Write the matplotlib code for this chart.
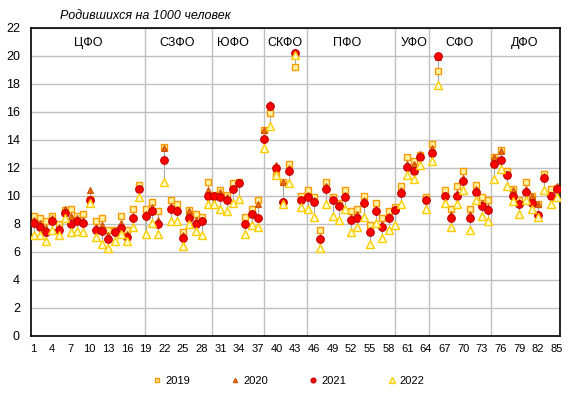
import matplotlib
matplotlib.use('Agg')
import matplotlib.pyplot as plt
import numpy as np

plt.rcParams['font.family'] = ['Liberation Sans', 'DejaVu Sans']

# birth rate per 1000 people, regions 1..85
y2019 = [8.6, 8.4, 8.2, 8.6, 8.0, 9.0, 9.1, 8.6, 8.7, 9.8,
         8.2, 8.4, 7.6, 7.6, 8.6, 7.6, 9.1, 10.8, 9.1, 9.6,
         8.9, 13.5, 9.7, 9.4, 7.4, 9.0, 8.7, 8.5, 11.0, 10.1,
         10.4, 10.1, 10.9, 11.0, 8.5, 9.1, 9.7, 14.7, 15.9, 11.6,
         11.0, 12.3, 19.2, 10.0, 10.4, 9.9, 7.6, 11.0, 9.9, 9.5,
         10.4, 8.9, 9.1, 10.0, 7.95, 9.5, 8.4, 8.9, 9.2, 10.7,
         12.8, 12.5, 12.9, 9.9, 13.7, 18.9, 10.4, 9.1, 10.7, 11.8,
         9.1, 10.8, 9.9, 9.7, 12.8, 13.3, 11.8, 10.5, 9.7, 11.0,
         10.0, 9.4, 11.6, 10.5, 10.6]
y2020 = [8.3, 8.1, 7.7, 8.4, 7.8, 9.1, 8.6, 8.4, 8.3, 10.4,
         7.8, 7.9, 7.2, 7.5, 8.1, 7.3, 8.6, 10.6, 8.7, 9.2,
         8.3, 13.4, 9.3, 9.1, 7.2, 8.95, 8.3, 8.3, 10.4, 10.0,
         10.3, 9.9, 10.6, 11.0, 8.1, 8.8, 9.4, 14.7, 16.6, 12.2,
         11.0, 12.0, 20.3, 9.8, 10.1, 9.7, 7.1, 10.7, 9.8, 9.4,
         10.1, 8.5, 8.7, 9.7, 7.6, 9.1, 8.0, 8.6, 9.1, 10.4,
         12.3, 12.3, 13.0, 9.8, 13.4, 19.9, 10.1, 8.7, 10.2, 11.3,
         8.7, 10.5, 9.5, 9.2, 12.8, 13.2, 11.6, 10.4, 9.6, 10.5,
         10.0, 9.4, 11.4, 10.1, 10.7]
y2021 = [8.1, 7.8, 7.4, 8.2, 7.6, 8.8, 8.0, 8.2, 8.1, 9.7,
         7.6, 7.5, 6.95, 7.4, 7.7, 7.1, 8.4, 10.5, 8.6, 8.95,
         8.0, 12.6, 9.1, 8.9, 7.0, 8.4, 8.0, 8.2, 10.0, 10.0,
         9.9, 9.7, 10.5, 10.9, 8.0, 8.7, 8.4, 14.1, 16.4, 12.0,
         9.6, 11.8, 20.2, 9.7, 9.95, 9.6, 6.9, 10.5, 9.7, 9.3,
         9.9, 8.3, 8.4, 9.5, 7.4, 8.9, 7.8, 8.4, 9.0, 10.2,
         12.05, 11.8, 12.8, 9.7, 13.1, 20.0, 10.0, 8.4, 10.0, 11.05,
         8.4, 10.3, 9.3, 9.0, 12.3, 12.55, 11.5, 10.0, 9.4, 10.3,
         9.5, 8.65, 11.3, 10.0, 10.5]
y2022 = [7.2, 7.2, 6.8, 7.6, 7.2, 8.4, 7.4, 7.5, 7.4, 9.5,
         7.1, 6.6, 6.3, 6.8, 7.3, 6.8, 7.8, 9.9, 7.3, 8.1,
         7.3, 11.0, 8.2, 8.2, 6.4, 8.0, 7.5, 7.2, 9.4, 9.4,
         9.1, 8.9, 9.5, 9.8, 7.3, 7.9, 7.8, 13.4, 15.0, 11.5,
         9.4, 10.9, 20.1, 9.2, 9.1, 8.5, 6.3, 9.4, 8.6, 8.3,
         9.1, 7.4, 7.8, 8.5, 6.6, 8.1, 7.0, 7.6, 7.9, 9.4,
         11.5, 11.2, 12.2, 9.1, 12.5, 17.9, 9.5, 7.8, 9.4, 10.45,
         7.6, 9.7, 8.6, 8.2, 11.2, 11.9, 10.7, 9.65, 8.7, 9.7,
         9.05, 8.5, 10.4, 9.4, 9.95]

districts = ['ЦФО', 'СЗФО', 'ЮФО', 'СКФО', 'ПФО', 'УФО', 'СФО', 'ДФО']
district_label_x = [9.7, 24.0, 33.0, 41.3, 51.4, 62.1, 69.4, 79.8]
district_bounds = [18.9, 29.7, 38.0, 44.9, 59.0, 64.5, 74.45]

regions = np.arange(1, 86)
allv = np.array([y2019, y2020, y2021, y2022])

fig = plt.figure(figsize=(5.76, 3.99), dpi=100)
ax = fig.add_axes([0.054, 0.158, 0.918, 0.772])

ax.set_xlim(0.6, 85.5)
ax.set_ylim(0, 22)
ax.set_yticks(np.arange(0, 23, 2))
ax.set_xticks(regions[::3])
ax.grid(axis='y', color='#C0C0C0', lw=1.0, zorder=0)
for b in district_bounds:
    ax.axvline(b, color='#C0C0C0', lw=1.0, zorder=0)

# high-low lines
ax.vlines(regions, allv.min(axis=0), allv.max(axis=0), color='#A6A6A6', lw=0.8, zorder=1)

ax.plot(regions, y2019, 's', ms=4.8, mfc='#FFF3A0', mec='#FF9900', mew=1.0, label='2019', zorder=2)
ax.plot(regions, y2020, '^', ms=4.8, mfc='#E46C0A', mec='#D05000', mew=0.8, label='2020', zorder=3)
ax.plot(regions, y2021, 'o', ms=5.5, mfc='#FF0000', mec='#C00000', mew=0.8, label='2021', zorder=4)
ax.plot(regions, y2022, '^', ms=6.0, mfc='#FFFFD0', mec='#FFCC00', mew=1.0, label='2022', zorder=5)

for name, xx in zip(districts, district_label_x):
    ax.text(xx, 20.95, name, ha='center', va='center', fontsize=9)

for s in ax.spines.values():
    s.set_color('black')
    s.set_linewidth(1.2)
ax.tick_params(length=0)
ax.tick_params(axis='y', labelsize=9, pad=8)
ax.tick_params(axis='x', labelsize=8, pad=6)

fig.text(60/576, 1 - 16/399, 'Родившихся на 1000 человек', ha='left', va='center',
         fontsize=9, style='italic')

fig.legend(loc='center', bbox_to_anchor=(0.5, 1 - 381/399), ncol=4, frameon=False,
           fontsize=8, markerscale=0.65, columnspacing=3.6, handletextpad=0.2, handlelength=1.0)

fig.savefig('out.png', dpi=100)
